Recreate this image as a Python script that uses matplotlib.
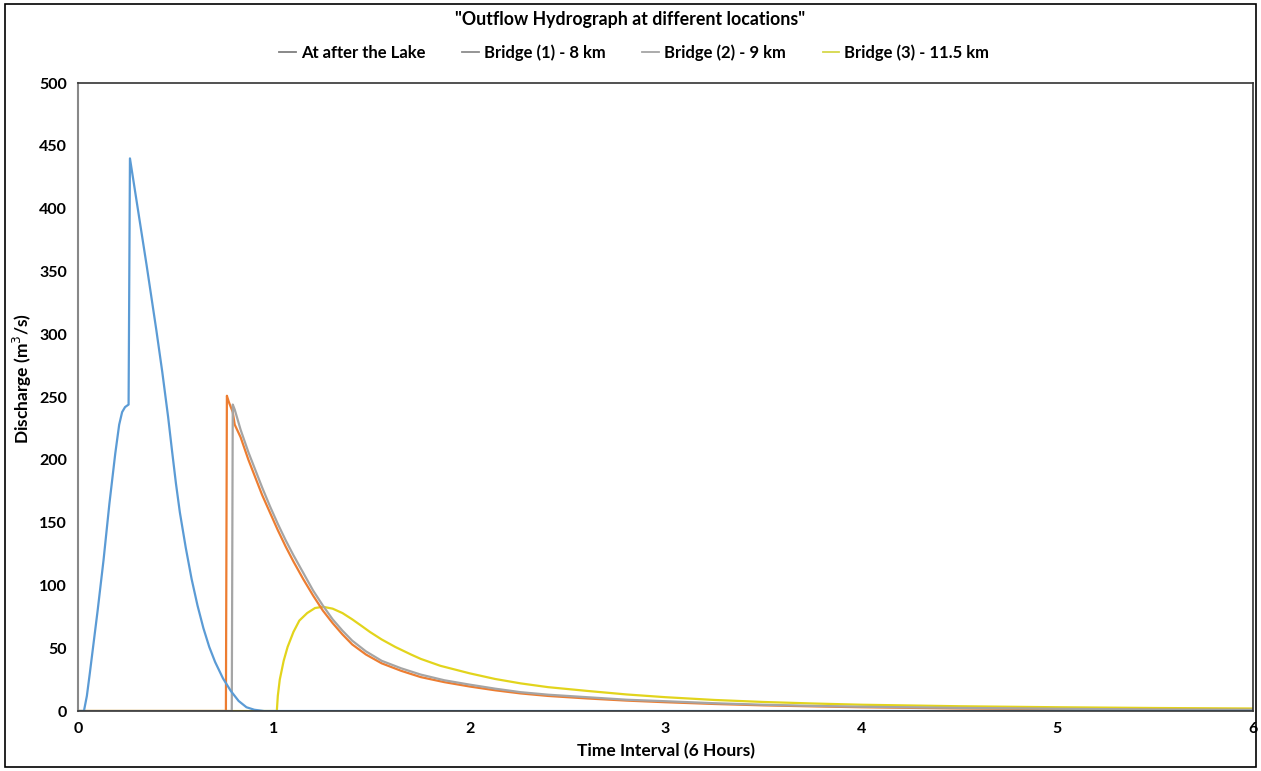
import matplotlib
matplotlib.use("Agg")
import matplotlib.pyplot as plt
from matplotlib.lines import Line2D
from matplotlib.patches import Rectangle

plt.rcParams["font.family"] = ["Lato", "DejaVu Sans"]

# outflow hydrographs (time in 6-hour intervals, discharge m3/s)
lake_t = [0, 0.03, 0.045, 0.06, 0.08, 0.10, 0.13, 0.16, 0.19, 0.21, 0.225, 0.24, 0.258,
          0.265, 0.30, 0.35, 0.40, 0.43, 0.46, 0.48, 0.50, 0.52, 0.55, 0.58, 0.61, 0.64,
          0.67, 0.70, 0.74, 0.78, 0.82, 0.86, 0.90, 0.95, 6.0]
lake_q = [0, 0, 12, 30, 55, 80, 120, 165, 205, 228, 238, 242, 244,
          440, 405, 355, 303, 270, 234, 207, 181, 158, 130, 105, 84, 66,
          51, 39, 26, 16, 8, 3, 1, 0, 0]

br1_t = [0, 0.755, 0.76, 0.77, 0.79, 0.80, 0.83, 0.87, 0.90, 0.94, 0.98, 1.02, 1.06, 1.10,
         1.15, 1.20, 1.25, 1.30, 1.35, 1.40, 1.47, 1.55, 1.65, 1.75, 1.87, 2.0, 2.13, 2.26,
         2.4, 2.6, 2.8, 3.0, 3.25, 3.5, 3.75, 4.0, 4.5, 5.0, 5.5, 6.0]
br1_q = [0, 0, 251, 246, 238, 228, 218, 200, 188, 172, 158, 144, 131, 119,
         105, 92, 80, 70, 61, 53, 45, 38, 32, 27, 23, 19.5, 16.5, 14,
         12, 10, 8.3, 7, 5.6, 4.5, 3.7, 3, 2, 1.5, 1, 0.8]

br2_t = [0, 0.785, 0.79, 0.80, 0.83, 0.87, 0.90, 0.94, 0.98, 1.02, 1.06, 1.10,
         1.15, 1.20, 1.25, 1.30, 1.35, 1.40, 1.47, 1.55, 1.65, 1.75, 1.87, 2.0, 2.13, 2.26,
         2.4, 2.6, 2.8, 3.0, 3.25, 3.5, 3.75, 4.0, 4.5, 5.0, 5.5, 6.0]
br2_q = [0, 0, 244, 240, 224, 206, 194, 178, 163, 149, 136, 124,
         110, 96, 84, 73, 64, 56, 47.5, 40, 34, 29, 24.5, 21, 17.8, 15,
         13, 11, 9, 7.8, 6.2, 5, 4.1, 3.4, 2.5, 1.8, 1.2, 1.0]

br3_t = [0, 1.015, 1.02, 1.03, 1.05, 1.07, 1.10, 1.13, 1.17, 1.21, 1.25, 1.30, 1.35, 1.40,
         1.45, 1.49, 1.55, 1.62, 1.70, 1.75, 1.85, 2.0, 2.13, 2.26, 2.4, 2.6, 2.8, 3.0,
         3.25, 3.5, 3.75, 4.0, 4.5, 5.0, 5.5, 6.0]
br3_q = [0, 0, 12, 25, 40, 51, 63, 72, 78, 82, 83, 81.5, 78, 73,
         67.5, 63, 57, 51, 45, 41.5, 36, 30, 25.5, 22, 19, 16, 13.2, 11,
         8.8, 7.2, 6, 5, 3.8, 3, 2.4, 2]

names = ["At after the Lake", "Bridge (1) - 8 km", "Bridge (2) - 9 km", "Bridge (3) - 11.5 km"]

fig = plt.figure(figsize=(12.61, 7.71), dpi=100)
ax = fig.add_axes([0.0619, 0.0778, 0.9318, 0.8145])

ax.plot(br3_t, br3_q, color="#E2D41C", lw=1.6)
ax.plot(br1_t, br1_q, color="#ED7D31", lw=1.6)
ax.plot(br2_t, br2_q, color="#A5A5A5", lw=1.6)
ax.plot(lake_t, lake_q, color="#5B9BD5", lw=1.6)

ax.set_xlim(0, 6)
ax.set_ylim(0, 500)
ax.set_xticks(range(0, 7))
ax.set_yticks(range(0, 501, 50))
ax.tick_params(length=0, labelsize=11.5, pad=8)
for lab in ax.get_xticklabels() + ax.get_yticklabels():
    lab.set_fontweight("bold")

for s in ["top", "right", "bottom"]:
    ax.spines[s].set_color("#333333")
    ax.spines[s].set_linewidth(1.2)
ax.spines["left"].set_color("#888888")
ax.spines["left"].set_linewidth(1.5)

ax.set_xlabel("Time Interval (6 Hours)", fontsize=12.5, fontweight="bold", labelpad=5)
ax.set_ylabel("Discharge (m$^3$/s)", fontsize=12.5, fontweight="bold")
ax.yaxis.set_label_coords(-0.0375, 0.53)

fig.text(0.5, 0.975, '"Outflow Hydrograph at different locations"', ha="center", va="center",
         fontsize=12.8, fontweight="bold")

handles = [Line2D([], [], color=c, lw=1.3) for c in ["#7F7F7F", "#8C8C8C", "#A5A5A5", "#D6D84A"]]
fig.legend(handles, names, loc="center", bbox_to_anchor=(0.503, 0.932), ncol=4, frameon=False,
           prop={"weight": "bold", "size": 12}, handlelength=1.0, handletextpad=0.3,
           columnspacing=2.2)

fig.patches.append(Rectangle((0.004, 0.005), 0.992, 0.99, transform=fig.transFigure,
                             fill=False, edgecolor="black", lw=1.2))

fig.savefig("out.png", dpi=100)
